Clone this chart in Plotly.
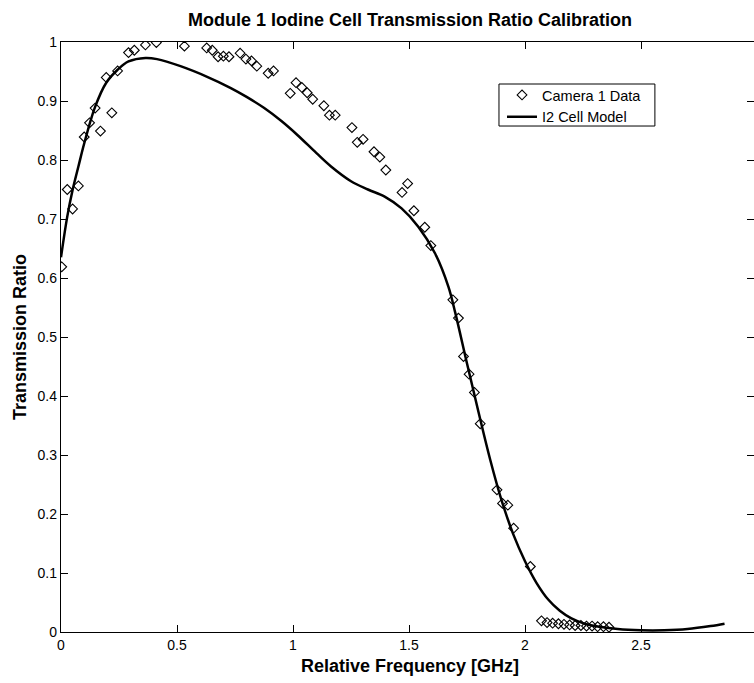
import plotly.graph_objects as go

# ---- data ----
cam_x = [0.003, 0.027, 0.050, 0.075, 0.100, 0.123, 0.147, 0.170, 0.195, 0.219,
         0.244, 0.291, 0.316, 0.364, 0.411, 0.532, 0.628, 0.652, 0.677, 0.700,
         0.724, 0.772, 0.797, 0.821, 0.844, 0.893, 0.916, 0.988, 1.013, 1.038,
         1.061, 1.085, 1.133, 1.157, 1.182, 1.254, 1.277, 1.302, 1.349, 1.374,
         1.400, 1.470, 1.494, 1.521, 1.568, 1.594, 1.689, 1.713, 1.735, 1.759,
         1.782, 1.807, 1.879, 1.903, 1.926, 1.951, 2.023, 2.071, 2.095, 2.119,
         2.144, 2.168, 2.192, 2.216, 2.241, 2.265, 2.289, 2.313, 2.338, 2.362]
cam_y = [0.619, 0.750, 0.717, 0.756, 0.839, 0.863, 0.888, 0.849, 0.940, 0.880,
         0.951, 0.982, 0.986, 0.995, 0.999, 0.993, 0.990, 0.986, 0.975, 0.976,
         0.975, 0.981, 0.971, 0.968, 0.959, 0.947, 0.951, 0.913, 0.931, 0.923,
         0.914, 0.903, 0.892, 0.876, 0.876, 0.855, 0.830, 0.835, 0.814, 0.805,
         0.783, 0.745, 0.760, 0.714, 0.686, 0.655, 0.563, 0.532, 0.467, 0.437,
         0.406, 0.353, 0.241, 0.218, 0.215, 0.176, 0.111, 0.019, 0.016, 0.015,
         0.014, 0.013, 0.012, 0.011, 0.011, 0.010, 0.010, 0.009, 0.009, 0.008]

model_x = [0.000, 0.027, 0.050, 0.075, 0.100, 0.147, 0.195, 0.244, 0.291, 0.364,
           0.414, 0.515, 0.630, 0.732, 0.800, 0.876, 0.950, 1.020, 1.100, 1.164,
           1.250, 1.323, 1.395, 1.468, 1.540, 1.612, 1.670, 1.700, 1.750, 1.800,
           1.850, 1.900, 1.950, 2.000, 2.050, 2.100, 2.150, 2.200, 2.250, 2.300,
           2.400, 2.500, 2.600, 2.700, 2.800, 2.860]
model_y = [0.635, 0.704, 0.749, 0.789, 0.828, 0.890, 0.931, 0.953, 0.967, 0.973,
           0.971, 0.959, 0.941, 0.922, 0.907, 0.888, 0.866, 0.842, 0.812, 0.789,
           0.764, 0.750, 0.738, 0.718, 0.687, 0.642, 0.585, 0.540, 0.455, 0.372,
           0.292, 0.222, 0.165, 0.120, 0.083, 0.055, 0.036, 0.023, 0.015, 0.010,
           0.005, 0.003, 0.003, 0.005, 0.010, 0.014]

x_ticks = [0, 0.5, 1, 1.5, 2, 2.5]
x_tick_labels = ["0", "0.5", "1", "1.5", "2", "2.5"]
y_ticks = [0, 0.1, 0.2, 0.3, 0.4, 0.5, 0.6, 0.7, 0.8, 0.9, 1]
y_tick_labels = ["0", "0.1", "0.2", "0.3", "0.4", "0.5", "0.6", "0.7", "0.8", "0.9", "1"]

title_text = "Module 1 Iodine Cell Transmission Ratio Calibration"
x_title = "Relative Frequency [GHz]"
y_title = "Transmission Ratio"

FONT = "Liberation Sans, Arial, Helvetica, sans-serif"

fig = go.Figure()
fig.add_trace(go.Scatter(
    x=cam_x, y=cam_y, mode="markers", name="Camera 1 Data",
    marker=dict(symbol="diamond-open", size=7.5, color="black",
                line=dict(width=1.1, color="black")),
))
fig.add_trace(go.Scatter(
    x=model_x, y=model_y, mode="lines", name="I2 Cell Model",
    line=dict(color="black", width=2.5, shape="spline", smoothing=1.0),
))
# helper trace so the right-hand tick axis is rendered
fig.add_trace(go.Scatter(x=[], y=[], yaxis="y2", showlegend=False,
                         hoverinfo="skip"))

axis_common = dict(showgrid=False, zeroline=False, color="black",
                   automargin=False,
                   tickfont=dict(family=FONT, size=14, color="black"),
                   ticks="inside", ticklen=7, tickwidth=1, tickcolor="black")

fig.update_layout(
    width=754, height=683,
    margin=dict(l=61, r=0, t=42, b=51, autoexpand=False),
    paper_bgcolor="white", plot_bgcolor="white",
    font=dict(family=FONT, size=14, color="black"),
    xaxis=dict(range=[0, 2.987], tickvals=x_ticks, ticktext=x_tick_labels,
               showline=True, linecolor="black", linewidth=1.3,
               mirror="ticks", **axis_common),
    yaxis=dict(range=[0, 1], tickvals=y_ticks, ticktext=y_tick_labels,
               showline=True, linecolor="black", linewidth=1.3,
               mirror=False, **axis_common),
    yaxis2=dict(range=[0, 1], overlaying="y", side="right",
                tickvals=y_ticks, showticklabels=False, showline=False,
                **axis_common),
    showlegend=True,
    legend=dict(x=0.6364, y=0.9373, xanchor="left", yanchor="top",
                bgcolor="rgba(0,0,0,0)", borderwidth=0,
                font=dict(family=FONT, size=14.5, color="black"),
                tracegroupgap=0),
    shapes=[
        dict(type="rect", xref="paper", yref="paper",
             x0=0.632, x1=0.857, y0=0.8576, y1=0.9288,
             line=dict(color="black", width=1), fillcolor="white",
             layer="above"),
    ],
    annotations=[
        dict(text=title_text, x=0.503, y=1.0373, xref="paper", yref="paper",
             xanchor="center", yanchor="middle", showarrow=False,
             font=dict(family=FONT, size=18, color="black", weight="bold")),
        dict(text=x_title, x=0.503, y=-0.0576, xref="paper", yref="paper",
             xanchor="center", yanchor="middle", showarrow=False,
             font=dict(family=FONT, size=18, color="black", weight="bold")),
        dict(text=y_title, x=-0.0592, y=0.5, xref="paper", yref="paper",
             xanchor="center", yanchor="middle", showarrow=False, textangle=-90,
             font=dict(family=FONT, size=18, color="black", weight="bold")),
    ],
)

fig.write_html("out.html",
               config={"displayModeBar": False},
               post_script="document.body.style.margin='0';"
                           "document.body.style.overflow='hidden';")
